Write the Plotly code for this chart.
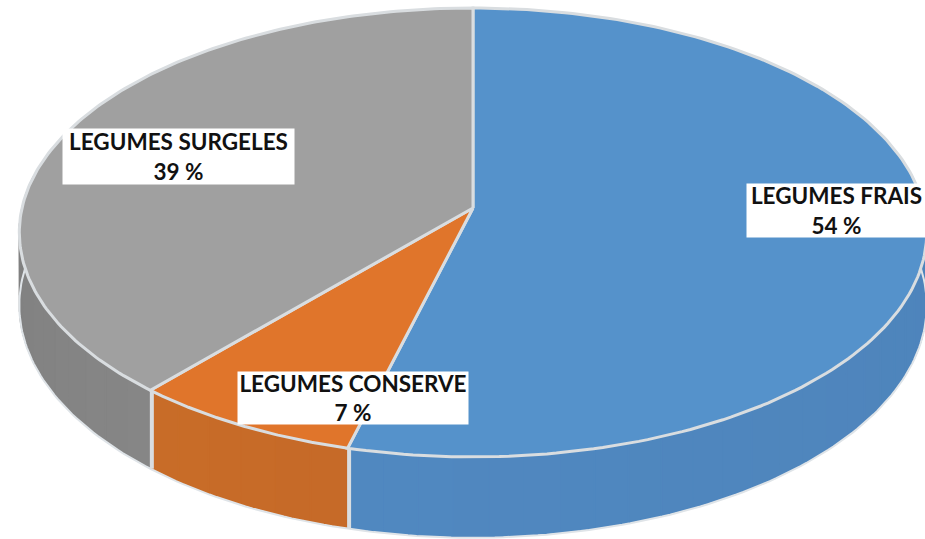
import numpy as np
import plotly.graph_objects as go

categories = ["LEGUMES FRAIS", "LEGUMES CONSERVE", "LEGUMES SURGELES"]
values = [54, 7.4, 38.6]

top_colors = ["#5592cb", "#e0752b", "#a0a0a0"]
side_start = [(76, 128, 182), (198, 106, 40), (134, 134, 134)]
side_end = [(80, 136, 192), (200, 108, 40), (116, 116, 116)]
RIM = "#d9dde0"

CX, CY, R, B, K, DEPTH = 473, 208, 451, 221.8, 0.109, 71


def project(deg, drop=0.0):
    a = np.radians(deg)
    X, Y = np.sin(a), -np.cos(a)
    w = 1 - K * Y
    return CX + R * X / w, CY + (B * Y + drop) / w


fig = go.Figure()
total = sum(values)
edges = np.concatenate([[0], np.cumsum(values)]) / total * 360


def add_poly(xs, ys, fill, line=None, width=0):
    fig.add_trace(go.Scatter(
        x=list(xs), y=list(ys), mode="lines", fill="toself", fillcolor=fill,
        line=dict(color=line or fill, width=width if line else 1.6),
        hoverinfo="skip", showlegend=False))


segs = []
for i in range(len(values)):
    a0, a1 = edges[i], edges[i + 1]
    n = max(2, int((a1 - a0) / 4))
    steps = np.linspace(a0, a1, n + 1)
    for j in range(n):
        s0, s1 = steps[j], steps[j + 1]
        if -np.cos(np.radians((s0 + s1) / 2)) < -0.14:
            continue
        t = j / max(1, n - 1)
        c = [round(side_start[i][k] * (1 - t) + side_end[i][k] * t) for k in range(3)]
        segs.append((s0, s1, f"rgb({c[0]},{c[1]},{c[2]})"))

for s0, s1, col in segs:
    arc = np.linspace(s0, s1, 6)
    x1, y1 = project(arc)
    x2, y2 = project(arc[::-1], DEPTH)
    add_poly(np.r_[x1, x2, x1[0]], np.r_[y1, y2, y1[0]], col)

# light outline along the bottom of the wall
ang = np.linspace(82, 278, 200)
bx, by = project(ang, DEPTH + 1)
fig.add_trace(go.Scatter(x=bx, y=by, mode="lines", line=dict(color="#dfe4e8", width=2),
                         hoverinfo="skip", showlegend=False))

# seams on the wall at slice boundaries
for e in edges[1:3]:
    x1, y1 = project(e)
    x2, y2 = project(e, DEPTH + 1)
    fig.add_trace(go.Scatter(x=[x1 + 1.5, x2 + 1.5], y=[y1, y2], mode="lines",
                             line=dict(color=RIM, width=4),
                             hoverinfo="skip", showlegend=False))

# top face
for i in range(len(values)):
    arc = np.linspace(edges[i], edges[i + 1], 180)
    x, y = project(arc)
    add_poly(np.r_[CX, x, CX], np.r_[CY, y, CY], top_colors[i], RIM, 3)

boxes = [(836.5, 210.5, 177, 51), (353, 398, 228, 50), (178.5, 156.5, 229, 53)]
annotations = []
for name, v, (bx_, by_, w_, h_) in zip(categories, values, boxes):
    annotations.append(dict(
        x=bx_, y=by_, xref="x", yref="y", showarrow=False,
        text=f"<b>{name}<br>{round(v)} %</b>", width=w_, height=h_,
        bgcolor="white", align="center", valign="middle",
        font=dict(family="Lato", size=22.5, color="#111111"),
    ))

fig.update_layout(
    width=925, height=539, margin=dict(l=0, r=0, t=0, b=0),
    paper_bgcolor="white", plot_bgcolor="white", showlegend=False,
    xaxis=dict(range=[0, 925], visible=False, fixedrange=True),
    yaxis=dict(range=[539, 0], visible=False, fixedrange=True),
    annotations=annotations,
)
fig.write_html("out.html", config=dict(displayModeBar=False),
               post_script="document.body.style.margin='0';document.documentElement.style.overflow='hidden';")
